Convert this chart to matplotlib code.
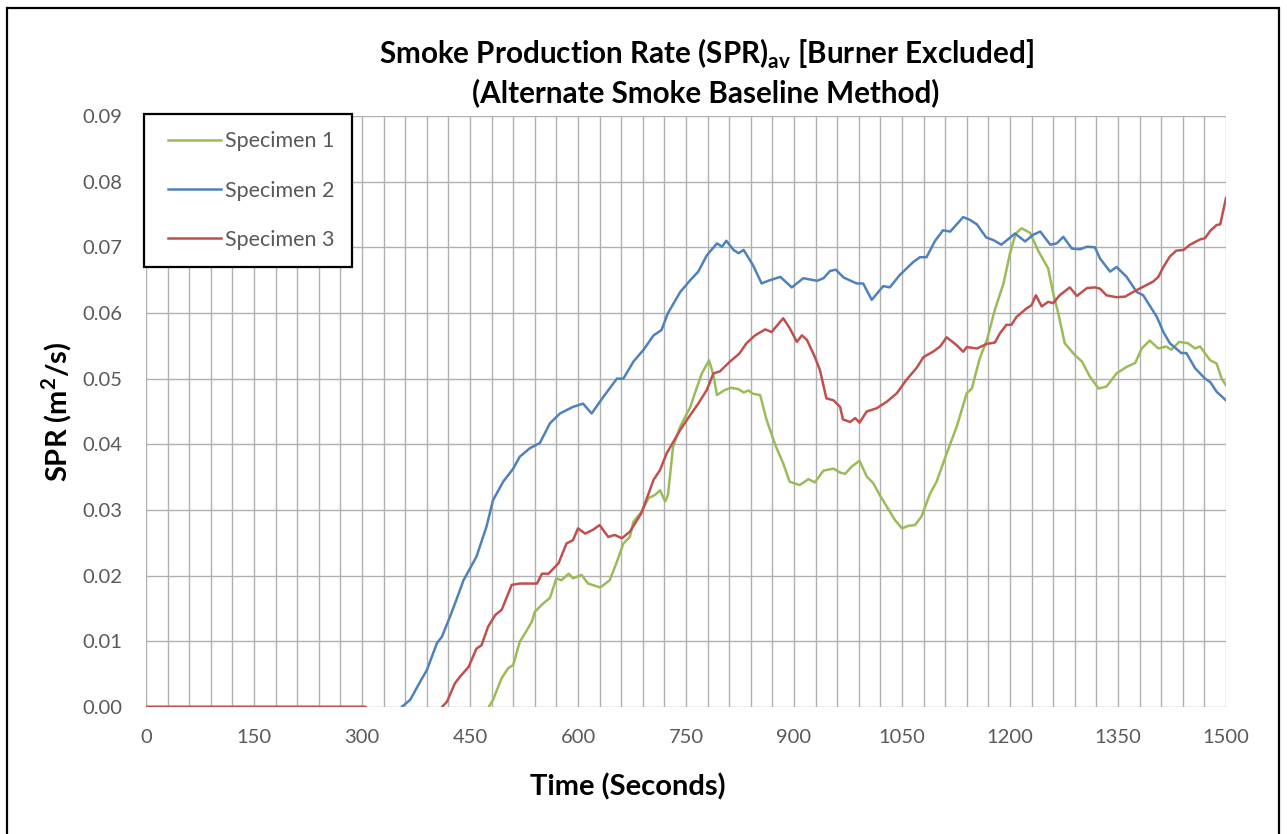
import matplotlib
matplotlib.use("Agg")
import matplotlib.pyplot as plt
import numpy as np
from matplotlib.patches import Rectangle
from matplotlib.ticker import MultipleLocator
from matplotlib.legend_handler import HandlerLine2D
from matplotlib.lines import Line2D

plt.rcParams['font.family'] = ['Lato', 'DejaVu Sans']
plt.rcParams['mathtext.fontset'] = 'custom'
plt.rcParams['mathtext.rm'] = 'Lato'
plt.rcParams['mathtext.bf'] = 'Lato:bold'

# ---------------- data ----------------
t1 = [0, 305, 312, 470, 476, 482, 494, 503, 510, 519, 529, 536, 540, 552, 561, 570, 577, 587, 593,
      605, 614, 631, 644, 654, 663, 672, 677, 688, 698, 707, 714, 721, 725, 732, 742, 756, 763,
      772, 782, 788, 793, 804, 813, 823, 830, 837, 843, 853, 862, 874, 885, 894, 908, 920, 929,
      941, 955, 964, 971, 980, 991, 1001, 1010, 1019, 1029, 1040, 1050, 1059, 1068, 1077, 1089,
      1098, 1112, 1126, 1140, 1147, 1158, 1168, 1179, 1191, 1200, 1208, 1216, 1228, 1240, 1253,
      1260, 1267, 1276, 1290, 1300, 1311, 1323, 1334, 1348, 1362, 1374, 1383, 1394, 1406, 1417,
      1424, 1435, 1447, 1457, 1464, 1478, 1487, 1494, 1500]
s1 = [0.0, 0.0, -0.003, -0.003, 0.0, 0.0011, 0.0044, 0.0059, 0.0064, 0.0099, 0.0117, 0.0130,
      0.0145, 0.0158, 0.0166, 0.0196, 0.0193, 0.0203, 0.0196, 0.0201, 0.0188, 0.0182, 0.0193,
      0.0221, 0.0249, 0.0259, 0.0282, 0.0297, 0.0318, 0.0323, 0.0330, 0.0313, 0.0323, 0.0396,
      0.0427, 0.0457, 0.0480, 0.0508, 0.0528, 0.0506, 0.0475, 0.0483, 0.0486, 0.0484, 0.0479,
      0.0482, 0.0477, 0.0475, 0.0437, 0.0399, 0.0371, 0.0343, 0.0338, 0.0347, 0.0342, 0.0360,
      0.0363, 0.0357, 0.0355, 0.0366, 0.0375, 0.0351, 0.0341, 0.0323, 0.0305, 0.0285, 0.0272,
      0.0276, 0.0277, 0.0290, 0.0325, 0.0343, 0.0386, 0.0427, 0.0478, 0.0485, 0.0531, 0.0559,
      0.0605, 0.0645, 0.0691, 0.0721, 0.0729, 0.0722, 0.0693, 0.0668, 0.0630, 0.0600, 0.0554,
      0.0536, 0.0526, 0.0503, 0.0485, 0.0488, 0.0508, 0.0518, 0.0524, 0.0546, 0.0558, 0.0546,
      0.0549, 0.0544, 0.0556, 0.0554, 0.0546, 0.0549, 0.0528, 0.0523, 0.0500, 0.0490]

t2 = [0, 305, 312, 350, 355, 367, 381, 390, 404, 411, 422, 431, 441, 459, 473, 482, 496, 510,
      519, 533, 547, 561, 575, 593, 607, 619, 635, 654, 663, 677, 691, 705, 716, 725, 742, 756,
      767, 779, 793, 800, 806, 816, 823, 830, 843, 855, 864, 881, 897, 913, 932, 941, 950, 958,
      969, 987, 996, 1008, 1024, 1033, 1047, 1066, 1075, 1084, 1096, 1107, 1117, 1135, 1144,
      1154, 1167, 1177, 1188, 1207, 1221, 1232, 1242, 1256, 1265, 1274, 1286, 1297, 1307, 1318,
      1325, 1339, 1348, 1362, 1376, 1385, 1404, 1413, 1422, 1438, 1445, 1457, 1471, 1478, 1487,
      1500]
s2 = [0.0, 0.0, -0.003, -0.003, 0.0, 0.0011, 0.0039, 0.0056, 0.0097, 0.0107, 0.0137, 0.0163,
      0.0193, 0.0229, 0.0275, 0.0315, 0.0343, 0.0363, 0.0381, 0.0394, 0.0402, 0.0432, 0.0447,
      0.0457, 0.0462, 0.0447, 0.0472, 0.0500, 0.0500, 0.0526, 0.0544, 0.0566, 0.0574, 0.0600,
      0.0632, 0.0650, 0.0663, 0.0688, 0.0706, 0.0701, 0.0710, 0.0696, 0.0691, 0.0696, 0.0673,
      0.0645, 0.0649, 0.0655, 0.0639, 0.0653, 0.0649, 0.0653, 0.0664, 0.0666, 0.0654, 0.0645,
      0.0645, 0.0620, 0.0641, 0.0639, 0.0658, 0.0678, 0.0685, 0.0685, 0.0710, 0.0726, 0.0724,
      0.0746, 0.0742, 0.0735, 0.0715, 0.0711, 0.0704, 0.0721, 0.0709, 0.0719, 0.0724, 0.0704,
      0.0706, 0.0716, 0.0698, 0.0697, 0.0701, 0.0700, 0.0683, 0.0663, 0.0670, 0.0655, 0.0632,
      0.0627, 0.0594, 0.0571, 0.0554, 0.0539, 0.0539, 0.0516, 0.0500, 0.0495, 0.0480, 0.0467]

t3 = [0, 305, 312, 405, 411, 418, 429, 436, 448, 459, 466, 475, 485, 494, 508, 519, 533, 543,
      550, 559, 573, 584, 593, 600, 610, 621, 630, 642, 651, 661, 672, 688, 705, 714, 723, 742,
      753, 767, 779, 788, 797, 811, 824, 834, 846, 860, 869, 878, 885, 894, 904, 911, 918, 929,
      936, 945, 955, 964, 968, 978, 985, 991, 1001, 1015, 1029, 1043, 1056, 1070, 1080, 1093,
      1103, 1112, 1126, 1135, 1140, 1154, 1168, 1179, 1186, 1195, 1202, 1209, 1223, 1230, 1236,
      1244, 1253, 1260, 1269, 1283, 1293, 1307, 1318, 1325, 1334, 1348, 1360, 1371, 1385, 1399,
      1406, 1413, 1422, 1431, 1441, 1450, 1464, 1471, 1478, 1487, 1492, 1500]
s3 = [0.0, 0.0, -0.003, -0.003, 0.0, 0.0008, 0.0036, 0.0046, 0.0061, 0.0089, 0.0094, 0.0122,
      0.0140, 0.0148, 0.0186, 0.0188, 0.0188, 0.0188, 0.0203, 0.0203, 0.0219, 0.0249, 0.0254,
      0.0272, 0.0264, 0.0270, 0.0277, 0.0259, 0.0262, 0.0257, 0.0267, 0.0295, 0.0346, 0.0361,
      0.0386, 0.0422, 0.0440, 0.0462, 0.0483, 0.0508, 0.0511, 0.0526, 0.0538, 0.0554, 0.0566,
      0.0575, 0.0571, 0.0583, 0.0592, 0.0577, 0.0556, 0.0566, 0.0559, 0.0533, 0.0513, 0.0470,
      0.0467, 0.0457, 0.0438, 0.0434, 0.0440, 0.0433, 0.0450, 0.0455, 0.0465, 0.0478, 0.0498,
      0.0516, 0.0533, 0.0541, 0.0549, 0.0563, 0.0551, 0.0541, 0.0548, 0.0546, 0.0553, 0.0555,
      0.0569, 0.0582, 0.0582, 0.0594, 0.0607, 0.0612, 0.0627, 0.0610, 0.0617, 0.0615, 0.0627,
      0.0639, 0.0626, 0.0638, 0.0639, 0.0637, 0.0627, 0.0624, 0.0625, 0.0632, 0.0640, 0.0648,
      0.0655, 0.0670, 0.0686, 0.0695, 0.0696, 0.0704, 0.0712, 0.0714, 0.0725, 0.0734, 0.0735,
      0.0775]

labels = ["Specimen 1", "Specimen 2", "Specimen 3"]
colors = ["#9BBB59", "#4F81BD", "#C0504D"]
x_ticks = [0, 150, 300, 450, 600, 750, 900, 1050, 1200, 1350, 1500]
y_ticks = [0.00, 0.01, 0.02, 0.03, 0.04, 0.05, 0.06, 0.07, 0.08, 0.09]

W, H = 1287, 834

# ---------------- figure ----------------
fig = plt.figure(figsize=(W / 100, H / 100), dpi=100)
ax = fig.add_axes([146 / W, 1 - 707 / H, (1226 - 146) / W, (707 - 116) / H])

for t, s, lab, c in zip([t1, t2, t3], [s1, s2, s3], labels, colors):
    ax.plot(t, s, color=c, lw=1.8, label=lab, solid_joinstyle='round', zorder=3)

ax.set_xlim(0, 1500)
ax.set_ylim(0, 0.09)
ax.set_xticks(x_ticks)
ax.set_xticklabels([str(v) for v in x_ticks])
ax.set_yticks(y_ticks)
ax.set_yticklabels([f"{v:.2f}" for v in y_ticks])
ax.xaxis.set_minor_locator(MultipleLocator(30))
ax.grid(True, which='major', axis='both', color='#b0b0b0', lw=1.0, zorder=0)
ax.grid(True, which='minor', axis='x', color='#b0b0b0', lw=1.0, zorder=0)
ax.tick_params(axis='both', which='both', length=0, labelsize=14.5, labelcolor='#595959')
ax.tick_params(axis='x', pad=16)
ax.tick_params(axis='y', pad=17)
for sp in ax.spines.values():
    sp.set_visible(False)
ax.set_axisbelow(True)

fig.text(628 / W, 1 - 787 / H, "Time (Seconds)", ha='center', va='center',
         fontsize=21, fontweight='bold')
fig.text(57 / W, 1 - 412 / H, r"SPR (m$^{\mathbf{2}}$/s)", ha='center', va='center',
         rotation=90, fontsize=21, fontweight='bold')

fig.text(706 / W, 1 - 54 / H,
         r"Smoke Production Rate (SPR)$_{\mathbf{av}}$ [Burner Excluded]",
         ha='center', va='center', fontsize=21.3, fontweight='bold')
fig.text(706 / W, 1 - 93 / H,
         "(Alternate Smoke Baseline Method)",
         ha='center', va='center', fontsize=21.3, fontweight='bold')

leg = ax.legend(loc='upper left', bbox_to_anchor=(-0.002, 1.003), borderaxespad=0,
                fontsize=15.5, frameon=True, fancybox=False, edgecolor='black',
                handlelength=2.79, handletextpad=0.2, labelspacing=1.35,
                borderpad=0.8, framealpha=1,
                handler_map={Line2D: HandlerLine2D(xpad=0.33)})
leg.get_frame().set_linewidth(1.6)
for txt in leg.get_texts():
    txt.set_color('#595959')
leg.set_zorder(5)

fig.patches.append(Rectangle((7 / W, -0.01), (1279 - 7) / W, 1 - 8 / H + 0.01,
                             transform=fig.transFigure, fill=False, edgecolor='black', lw=1.6))

fig.savefig("out.png", dpi=100)
